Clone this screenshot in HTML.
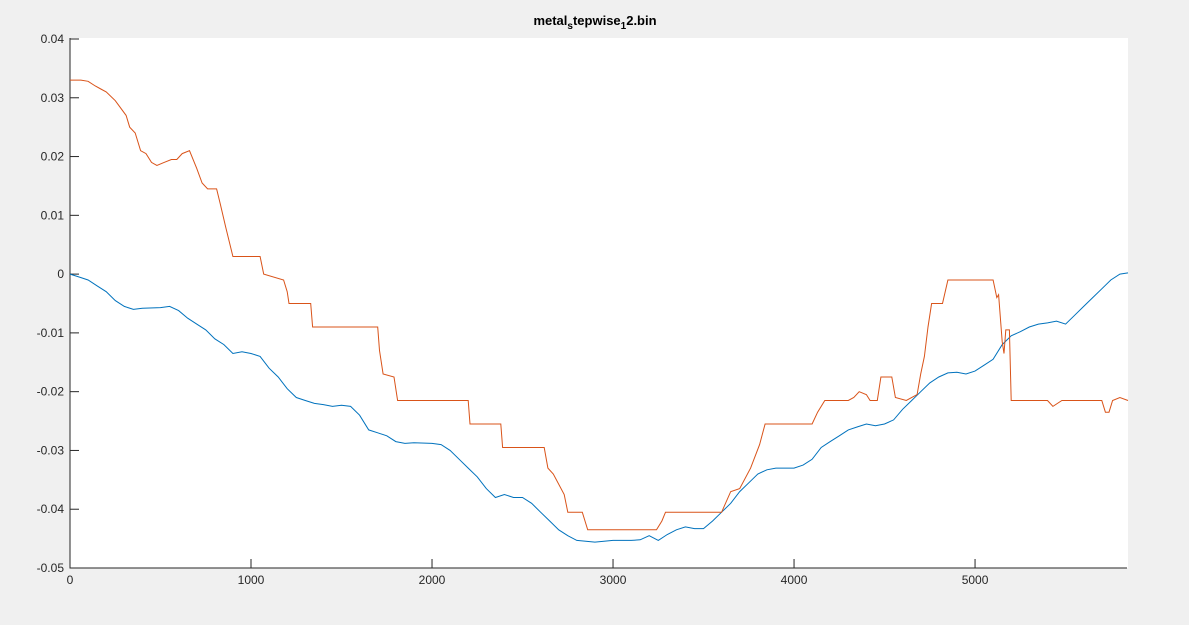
<!DOCTYPE html>
<html><head><meta charset="utf-8"><style>
body{margin:0;background:#f0f0f0;}
svg{display:block;font-family:"Liberation Sans",sans-serif;}
</style></head><body>
<svg id="chart" width="1189" height="625">
<rect x="0" y="0" width="1189" height="625" fill="#f0f0f0"/>
<rect x="70" y="38" width="1058" height="530" fill="#fff"/>
<line x1="70" y1="38" x2="70" y2="568.5" stroke="#262626"/>
<line x1="69.5" y1="568" x2="1127" y2="568" stroke="#262626"/>
<text x="595" y="25" text-anchor="middle" font-size="13" font-weight="bold" fill="#000">metal<tspan font-size="10" dy="4">s</tspan><tspan dy="-4">tepwise</tspan><tspan font-size="10" dy="4">1</tspan><tspan dy="-4">2.bin</tspan></text>
<g id="axes"></g>
<g id="series"></g>
</svg>
<script>
const xTicks=[0,1000,2000,3000,4000,5000];
const yTicks=[0.04,0.03,0.02,0.01,0,-0.01,-0.02,-0.03,-0.04,-0.05];
const yTickLabels=["0.04","0.03","0.02","0.01","0","-0.01","-0.02","-0.03","-0.04","-0.05"];
const orangeX=[0,60,100,140,170,200,250,310,330,360,390,420,450,480,520,560,590,620,660,700,730,760,810,830,860,900,1050,1070,1180,1200,1210,1330,1340,1700,1710,1730,1790,1810,2200,2210,2380,2390,2620,2640,2670,2730,2750,2830,2860,3240,3270,3290,3600,3650,3700,3760,3810,3840,4100,4130,4170,4300,4330,4360,4400,4420,4460,4480,4540,4560,4620,4680,4700,4720,4740,4760,4820,4850,5100,5120,5130,5150,5160,5170,5190,5200,5400,5430,5480,5600,5700,5720,5740,5760,5800,5845];
const orangeY=[0.033,0.033,0.0328,0.032,0.0315,0.031,0.0295,0.027,0.025,0.024,0.021,0.0205,0.019,0.0185,0.019,0.0195,0.0195,0.0205,0.021,0.018,0.0155,0.0145,0.0145,0.012,0.008,0.003,0.003,0.0,-0.001,-0.003,-0.005,-0.005,-0.009,-0.009,-0.013,-0.017,-0.0175,-0.0215,-0.0215,-0.0255,-0.0255,-0.0295,-0.0295,-0.033,-0.034,-0.0375,-0.0405,-0.0405,-0.0435,-0.0435,-0.042,-0.0405,-0.0405,-0.037,-0.0365,-0.033,-0.029,-0.0255,-0.0255,-0.0235,-0.0215,-0.0215,-0.021,-0.02,-0.0205,-0.0215,-0.0215,-0.0175,-0.0175,-0.021,-0.0215,-0.0205,-0.017,-0.014,-0.009,-0.005,-0.005,-0.001,-0.001,-0.004,-0.0035,-0.0115,-0.0135,-0.0095,-0.0095,-0.0215,-0.0215,-0.0225,-0.0215,-0.0215,-0.0215,-0.0235,-0.0235,-0.0215,-0.021,-0.0215];
const blueX=[0,50,100,150,200,250,300,350,400,500,550,600,650,700,750,800,850,900,950,1000,1050,1100,1150,1200,1250,1300,1350,1400,1450,1500,1550,1600,1650,1700,1750,1800,1850,1900,2000,2050,2100,2150,2200,2250,2300,2350,2400,2450,2500,2550,2600,2650,2700,2750,2800,2900,3000,3100,3150,3200,3250,3300,3350,3400,3450,3500,3550,3600,3650,3700,3750,3800,3850,3900,4000,4050,4100,4150,4200,4250,4300,4350,4400,4450,4500,4550,4600,4650,4700,4750,4800,4850,4900,4950,5000,5050,5100,5150,5200,5250,5300,5350,5400,5450,5500,5550,5600,5650,5700,5750,5800,5845];
const blueY=[0,-0.0005,-0.001,-0.002,-0.003,-0.0045,-0.0055,-0.006,-0.0058,-0.0057,-0.0055,-0.0062,-0.0075,-0.0085,-0.0095,-0.011,-0.012,-0.0135,-0.0132,-0.0135,-0.014,-0.016,-0.0175,-0.0195,-0.021,-0.0215,-0.022,-0.0222,-0.0225,-0.0223,-0.0225,-0.024,-0.0265,-0.027,-0.0275,-0.0285,-0.0288,-0.0287,-0.0288,-0.029,-0.03,-0.0315,-0.033,-0.0345,-0.0365,-0.038,-0.0375,-0.038,-0.038,-0.039,-0.0405,-0.042,-0.0435,-0.0445,-0.0453,-0.0456,-0.0453,-0.0453,-0.0452,-0.0445,-0.0453,-0.0443,-0.0435,-0.043,-0.0433,-0.0433,-0.042,-0.0405,-0.039,-0.037,-0.0355,-0.034,-0.0333,-0.033,-0.033,-0.0325,-0.0315,-0.0295,-0.0285,-0.0275,-0.0265,-0.026,-0.0255,-0.0258,-0.0255,-0.0248,-0.023,-0.0215,-0.02,-0.0185,-0.0175,-0.0168,-0.0167,-0.017,-0.0165,-0.0155,-0.0145,-0.012,-0.0105,-0.0098,-0.009,-0.0085,-0.0083,-0.008,-0.0085,-0.007,-0.0055,-0.004,-0.0025,-0.001,0,0.0002];
const X0=70,X1=1128,Y0=568,Y1=39,XMAX=5845,YMIN=-0.05,YMAX=0.04;
function sx(v){return X0+(v/XMAX)*(X1-X0);}
function sy(v){return Y0-(v-YMIN)/(YMAX-YMIN)*(Y0-Y1);}
const NS="http://www.w3.org/2000/svg";
const axes=document.getElementById('axes'),series=document.getElementById('series');
function mk(tag,attrs,parent){const e=document.createElementNS(NS,tag);for(const k in attrs)e.setAttribute(k,attrs[k]);parent.appendChild(e);return e;}
xTicks.forEach(t=>{const x=sx(t);
 const l=mk('line',{x1:x,x2:x,y1:Y0,y2:Y0-9,stroke:'#262626'},axes);
 
 
 const tx=mk('text',{x:x,y:Y0+16,'text-anchor':'middle','font-size':'12',fill:'#262626'},axes);tx.textContent=t;
 
 
});
yTicks.forEach((t,i)=>{const y=sy(t);
 const l=mk('line',{x1:X0,x2:X0+9,y1:y,y2:y,stroke:'#262626'},axes);
 
 
 const tx=mk('text',{x:X0-6,y:y+4,'text-anchor':'end','font-size':'12',fill:'#262626'},axes);tx.textContent=yTickLabels[i];
 
 
});
function line(xs,ys,color,name){let d='';xs.forEach((x,i)=>{d+=(i?'L':'M')+sx(x).toFixed(1)+','+sy(ys[i]).toFixed(1);});
 const p=mk('path',{d:d,fill:'none',stroke:color,'stroke-width':'1'},series);
 
 
}
line(blueX,blueY,'#0072bd','blue-series-line');
line(orangeX,orangeY,'#d95319','orange-series-line');
</script>
</body></html>
